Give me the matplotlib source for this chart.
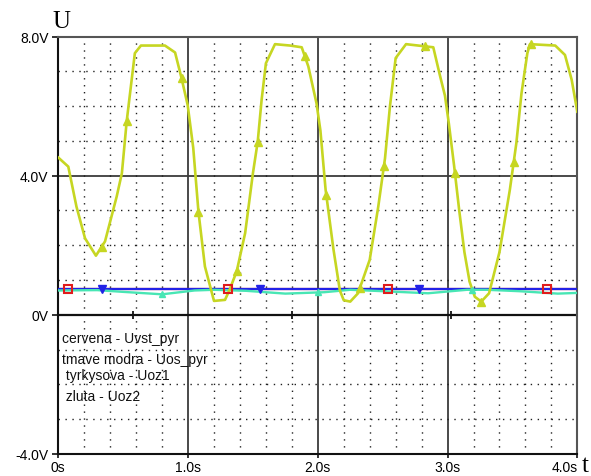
import numpy as np
import matplotlib
matplotlib.use("Agg")
import matplotlib.pyplot as plt
from matplotlib.ticker import MultipleLocator

# ---------------- data ----------------
# zluta - Uoz2 (yellow)
t_uoz2 = [0.00, 0.077, 0.14, 0.206, 0.29, 0.36, 0.45, 0.49, 0.527, 0.59, 0.637, 0.822,
          0.90, 0.95, 0.997, 1.04, 1.08, 1.13, 1.20, 1.285, 1.32, 1.375, 1.44, 1.50,
          1.537, 1.567, 1.60, 1.67, 1.786, 1.876, 1.927, 1.99, 2.02, 2.06, 2.12, 2.17,
          2.20, 2.25, 2.31, 2.40, 2.466, 2.518, 2.556, 2.60, 2.68, 2.89, 2.94, 2.98,
          3.01, 3.05, 3.09, 3.13, 3.17, 3.21, 3.26, 3.32, 3.40, 3.48, 3.53, 3.57,
          3.615, 3.635, 3.83, 3.905, 3.957, 4.00]
v_uoz2 = [4.52, 4.26, 3.11, 2.20, 1.70, 2.11, 3.40, 4.07, 5.56, 7.52, 7.74, 7.74,
          7.54, 6.80, 6.03, 4.80, 2.97, 1.39, 0.40, 0.43, 0.72, 1.25, 2.35, 4.07,
          4.98, 6.18, 7.23, 7.78, 7.74, 7.69, 7.14, 6.08, 5.30, 3.60, 1.90, 0.70,
          0.42, 0.38, 0.62, 1.58, 3.11, 4.50, 5.99, 7.38, 7.78, 7.69, 6.90, 6.30,
          5.50, 4.30, 3.00, 1.80, 0.95, 0.52, 0.38, 0.62, 1.80, 3.59, 4.93, 6.37,
          7.52, 7.78, 7.74, 7.47, 6.75, 5.84]
mk_uoz2 = [0.334, 0.527, 0.95, 1.08, 1.375, 1.537, 1.90, 2.065, 2.325, 2.51, 2.83,
           3.057, 3.26, 3.51, 3.64]

# tyrkysova - Uoz1 (turquoise)
t_uoz1 = [0.0, 0.3, 0.5, 0.8, 1.05, 1.2, 1.45, 1.75, 2.05, 2.25, 2.5, 2.85, 3.15,
          3.3, 3.55, 3.85, 4.0]
v_uoz1 = [0.70, 0.71, 0.66, 0.59, 0.70, 0.72, 0.69, 0.61, 0.65, 0.72, 0.68, 0.62,
          0.72, 0.72, 0.68, 0.61, 0.63]
mk_uoz1 = [0.8, 2.0, 3.19]

# tmave modra - Uos_pyr (dark blue)
t_uos = [0.0, 4.0]
v_uos = [0.73, 0.73]
mk_uos = [0.334, 1.555, 2.78]

# cervena - Uvst_pyr (red)
t_uvst = [0.0, 4.0]
v_uvst = [0.73, 0.73]
mk_uvst = [0.077, 1.31, 2.54, 3.764]

# small ticks on the 0 V line
zero_marks = [0.578, 1.80, 3.03]

x_ticks = [0, 1, 2, 3, 4]
x_labels = ["0s", "1.0s", "2.0s", "3.0s", "4.0s"]
y_ticks = [-4, 0, 4, 8]
y_labels = ["-4.0V", "0V", "4.0V", "8.0V"]

legend_lines = ["cervena - Uvst_pyr", "tmave modra - Uos_pyr",
                " tyrkysova - Uoz1", " zluta - Uoz2"]

# ---------------- figure ----------------
W, H = 591, 477
fig = plt.figure(figsize=(W / 100, H / 100), dpi=100)
ax = fig.add_axes([58.3 / W, 22 / H, 519 / W, 417.5 / H])
ax.set_xlim(0, 4)
ax.set_ylim(-4, 8)

sans = ["Liberation Sans", "DejaVu Sans"]
serif = ["Liberation Serif", "DejaVu Serif"]

# grid
ax.xaxis.set_minor_locator(MultipleLocator(0.2))
ax.yaxis.set_minor_locator(MultipleLocator(1))
ax.grid(which="minor", color="#202020", linestyle=(0, (1, 4)), linewidth=1.0)
ax.tick_params(which="minor", length=0)
for xv in x_ticks[1:-1]:
    ax.axvline(xv, color="#3c3c3c", lw=1.3, zorder=1.5)
ax.axhline(4, color="#3c3c3c", lw=1.3, zorder=1.5)
ax.axhline(0, color="#111111", lw=1.6, zorder=1.6)
ax.plot(zero_marks, [0] * len(zero_marks), linestyle="none", marker="|",
        color="#111111", markersize=6, mew=1.3, zorder=1.7)

# series
c_red, c_blue, c_cyan, c_yel = "#e01c1c", "#2222e6", "#48e6b4", "#c6d622"
ax.plot(t_uvst, v_uvst, color=c_red, lw=1.6, zorder=3)
ax.plot(mk_uvst, np.interp(mk_uvst, t_uvst, v_uvst), linestyle="none", marker="s",
        markersize=6, mfc="none", mec=c_red, mew=1.5, zorder=6)
ax.plot(t_uos, v_uos, color=c_blue, lw=1.6, zorder=4)
ax.plot(mk_uos, np.interp(mk_uos, t_uos, v_uos), linestyle="none", marker="v",
        markersize=6, color=c_blue, zorder=6)
ax.plot(t_uoz1, v_uoz1, color=c_cyan, lw=1.7, zorder=4.5)
ax.plot(mk_uoz1, np.interp(mk_uoz1, t_uoz1, v_uoz1), linestyle="none", marker="^",
        markersize=5, color=c_cyan, zorder=6)
ax.plot(t_uoz2, v_uoz2, color=c_yel, lw=1.9, zorder=5)
ax.plot(mk_uoz2, np.interp(mk_uoz2, t_uoz2, v_uoz2), linestyle="none", marker="^",
        markersize=5.5, color=c_yel, zorder=6)

# spines
for s in ["left", "bottom"]:
    ax.spines[s].set_color("#111111")
    ax.spines[s].set_linewidth(1.5)
for s in ["top", "right"]:
    ax.spines[s].set_color("#555555")
    ax.spines[s].set_linewidth(1.5)

# ticks
ax.set_xticks(x_ticks)
ax.set_xticklabels(x_labels, fontfamily=sans, fontsize=10)
ax.set_yticks(y_ticks)
ax.set_yticklabels(y_labels, fontfamily=sans, fontsize=10)
ax.tick_params(axis="y", which="major", length=4, width=1.2, pad=3, color="#111111")
ax.tick_params(axis="x", which="major", length=3, width=1.2, pad=1, color="#111111")
xl = ax.get_xticklabels()
xl[-1].set_horizontalalignment("right")

# axis titles
fig.text(61.5 / W, 1 - 28 / H, "U", fontfamily=serif, fontsize=18,
         ha="center", va="baseline")
fig.text(585 / W, 1 - 472 / H, "t", fontfamily=serif, fontsize=18,
         ha="center", va="baseline")

# legend text
leg_x = [0.028, 0.028, 0.028, 0.028]
leg_y = [-0.67, -1.26, -1.74, -2.32]
for xx, yy, s in zip(leg_x, leg_y, legend_lines):
    ax.text(xx, yy, s, fontfamily=sans, fontsize=10, ha="left", va="center",
            color="#111111", zorder=7)

fig.savefig("out.png", dpi=100)
